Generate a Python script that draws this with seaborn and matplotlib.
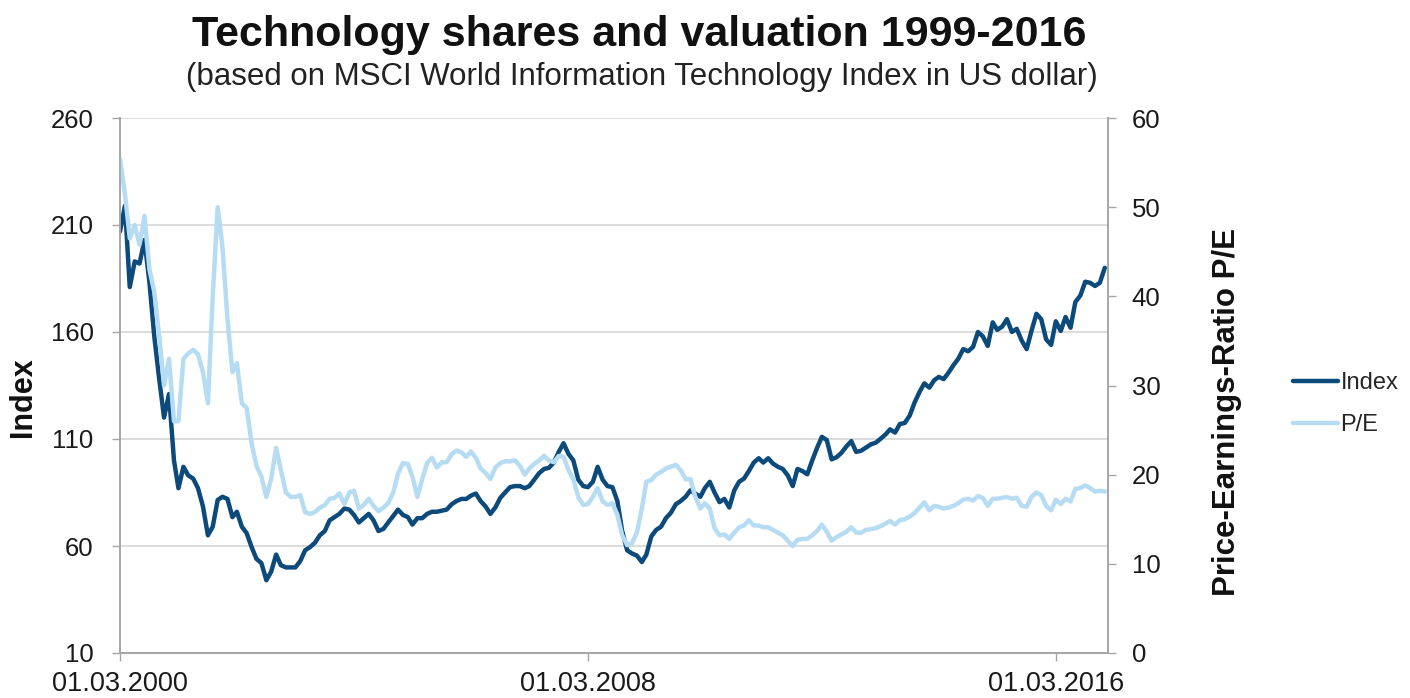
import numpy as np
import pandas as pd
import matplotlib
matplotlib.use("Agg")
import matplotlib.pyplot as plt
from matplotlib.lines import Line2D
import seaborn as sns

# monthly readings, 01.03.2000 onwards
start_date = "2000-03-01"
tick_labels = ["01.03.2000", "01.03.2008", "01.03.2016"]
index_vals = [
    207, 219, 181, 193, 192, 203, 183, 158, 138, 120,
    131, 100, 87, 97, 93, 91.5, 87, 78.5, 65, 69,
    81.5, 83, 82, 73.5, 76, 69, 66, 59.5, 54, 52,
    44, 48, 56, 51, 50, 50, 50, 53, 58, 59.5,
    61.5, 65, 67, 72, 73.5, 75, 77.5, 77, 74.5, 71,
    73, 75, 72, 67, 68, 71, 74, 77, 74.5, 73.5,
    70, 73, 73, 75, 76, 76, 76.5, 77, 79.5, 81,
    82, 82, 83.5, 84.5, 81, 78.5, 75, 78, 82.5, 85,
    87.5, 88, 88, 87, 88, 91, 94, 96, 96.5, 99,
    104, 108, 103, 100, 91, 88, 87.5, 90, 97, 91,
    88, 87.5, 81, 67, 58, 56.5, 55.5, 52.5, 56, 64.5,
    67.5, 69, 73, 75.5, 79.5, 81, 83, 86, 84.5, 83,
    87, 90, 85, 80.5, 82, 78, 86, 90, 91.5, 95,
    99, 101, 99, 101, 98.5, 97, 96, 93, 88, 96,
    95, 93.5, 100, 106, 111, 109.5, 100.5, 101.5, 103.5, 106.5,
    109, 104, 104.5, 106, 107.5, 108.3, 110, 112, 114.5, 113,
    117, 117.5, 121, 127, 132, 136, 134, 137.5, 139, 138,
    141, 144.5, 147.5, 152, 151, 153, 160, 158, 153.5, 164.5,
    161, 162.5, 166, 160, 161.5, 156, 152, 160.5, 168.5, 166,
    156.5, 154, 165, 160.5, 167, 162, 174, 177, 183.5, 183,
    181.5, 183, 190,
]
pe_vals = [
    55.4, 51.5, 46.5, 48, 45.8, 49, 43, 40.5, 35.5, 30,
    33, 26, 26, 33, 33.6, 34, 33.5, 31.5, 28, 40,
    50, 45.5, 37.5, 31.5, 32.5, 28, 27.5, 23.5, 21, 19.8,
    17.5, 19.5, 23, 20.5, 18, 17.5, 17.5, 17.7, 15.8, 15.6,
    15.8, 16.3, 16.6, 17.3, 17.4, 17.9, 16.7, 18, 18.2, 16.2,
    16.6, 17.3, 16.5, 15.9, 16.3, 16.8, 18, 20.1, 21.3, 21.2,
    19.8, 17.5, 19.5, 21.3, 21.9, 20.8, 21.4, 21.4, 22.3, 22.7,
    22.5, 22, 22.6, 21.9, 20.7, 20.2, 19.5, 20.8, 21.3, 21.5,
    21.5, 21.6, 21, 20, 20.7, 21.2, 21.6, 22.1, 21.6, 21.4,
    22.1, 22, 20.5, 19.5, 17.5, 16.6, 16.7, 17.5, 18.5, 17,
    16.6, 16.8, 15.5, 13.2, 12.1, 12.3, 13.5, 16.2, 19.2, 19.4,
    20, 20.3, 20.7, 20.9, 21.1, 20.5, 19.5, 19.5, 17.5, 16.2,
    16.8, 16.2, 14, 13.2, 13.3, 12.8, 13.5, 14.1, 14.3, 14.9,
    14.3, 14.3, 14.1, 14.1, 13.8, 13.5, 13.2, 12.6, 12, 12.7,
    12.8, 12.8, 13.2, 13.7, 14.4, 13.6, 12.6, 13, 13.3, 13.6,
    14.1, 13.5, 13.5, 13.8, 13.9, 14, 14.2, 14.5, 14.8, 14.4,
    14.9, 15, 15.3, 15.7, 16.3, 16.9, 16, 16.5, 16.4, 16.2,
    16.3, 16.5, 16.8, 17.2, 17.3, 17.1, 17.6, 17.4, 16.5, 17.3,
    17.3, 17.4, 17.5, 17.3, 17.4, 16.5, 16.4, 17.5, 18, 17.7,
    16.5, 16, 17.2, 16.7, 17.3, 17, 18.4, 18.5, 18.8, 18.5,
    18.1, 18.2, 18.1,
]

dark = "#0B4A7A"
light = "#B5DCF2"
grey = "#A6A6A6"

dates = pd.date_range(start_date, periods=len(index_vals), freq="MS")
df = pd.DataFrame({"date": dates, "Index": index_vals, "P/E": pe_vals})

sns.set_theme(style="white")
plt.rcParams["font.family"] = ["Liberation Sans", "DejaVu Sans"]

fig = plt.figure(figsize=(14.1, 6.98), dpi=100)
ax = fig.add_axes([120 / 1410, 45 / 698, 988 / 1410, 535 / 698])
ax2 = ax.twinx()

sns.lineplot(data=df, x="date", y="Index", ax=ax, color=dark, linewidth=3.2)
sns.lineplot(data=df, x="date", y="P/E", ax=ax2, color=light, linewidth=3.2)

ax.set_ylim(10, 260)
ax.set_yticks(range(10, 261, 50))
ax2.set_ylim(0, 60)
ax2.set_yticks(range(0, 61, 10))
ax.set_xlim(dates[0], dates[-1] + pd.Timedelta(days=20))
ax.set_xticks([dates[0], dates[96], dates[192]])
ax.set_xticklabels(tick_labels)

ax.grid(axis="y", color="#D9D9D9", linewidth=1.3)
ax.set_axisbelow(True)
for a in (ax, ax2):
    a.spines["top"].set_visible(False)
    for s in ("left", "right", "bottom"):
        a.spines[s].set_color(grey)
        a.spines[s].set_linewidth(1.2)
ax.tick_params(axis="y", direction="out", length=6, width=1, color=grey,
               labelsize=18.5, labelcolor="#1A1A1A", left=True, pad=13)
ax.tick_params(axis="x", direction="out", length=6, width=1, color=grey,
               labelsize=19.5, labelcolor="#1A1A1A", bottom=True, pad=7)
ax2.tick_params(axis="y", direction="out", length=6, width=1, color=grey,
                labelsize=18.5, labelcolor="#1A1A1A", right=True, pad=11)

ax.set_xlabel("")
ax.set_ylabel("Index", fontsize=22, fontweight="bold", color="#111111")
ax.yaxis.set_label_coords(-0.083, 0.478)
ax2.set_ylabel("Price-Earnings-Ratio P/E", fontsize=22.5, fontweight="bold", color="#111111")
ax2.yaxis.set_label_coords(1.105, 0.45)

fig.text(0.453, 0.95, "Technology shares and valuation 1999-2016",
         ha="center", va="center", fontsize=31, fontweight="bold", color="#111111")
fig.text(0.455, 0.89, "(based on MSCI World Information Technology Index in US dollar)",
         ha="center", va="center", fontsize=22.5, color="#222222")

handles = [Line2D([], [], color=dark, linewidth=3.2),
           Line2D([], [], color=light, linewidth=3.2)]
fig.legend(handles, ["Index", "P/E"], loc="center left",
           bbox_to_anchor=(1272 / 1410, 1 - 404 / 698), frameon=False,
           fontsize=17, handlelength=1.9, handletextpad=0.1, labelspacing=0.85)

fig.savefig("out.png", dpi=100)
